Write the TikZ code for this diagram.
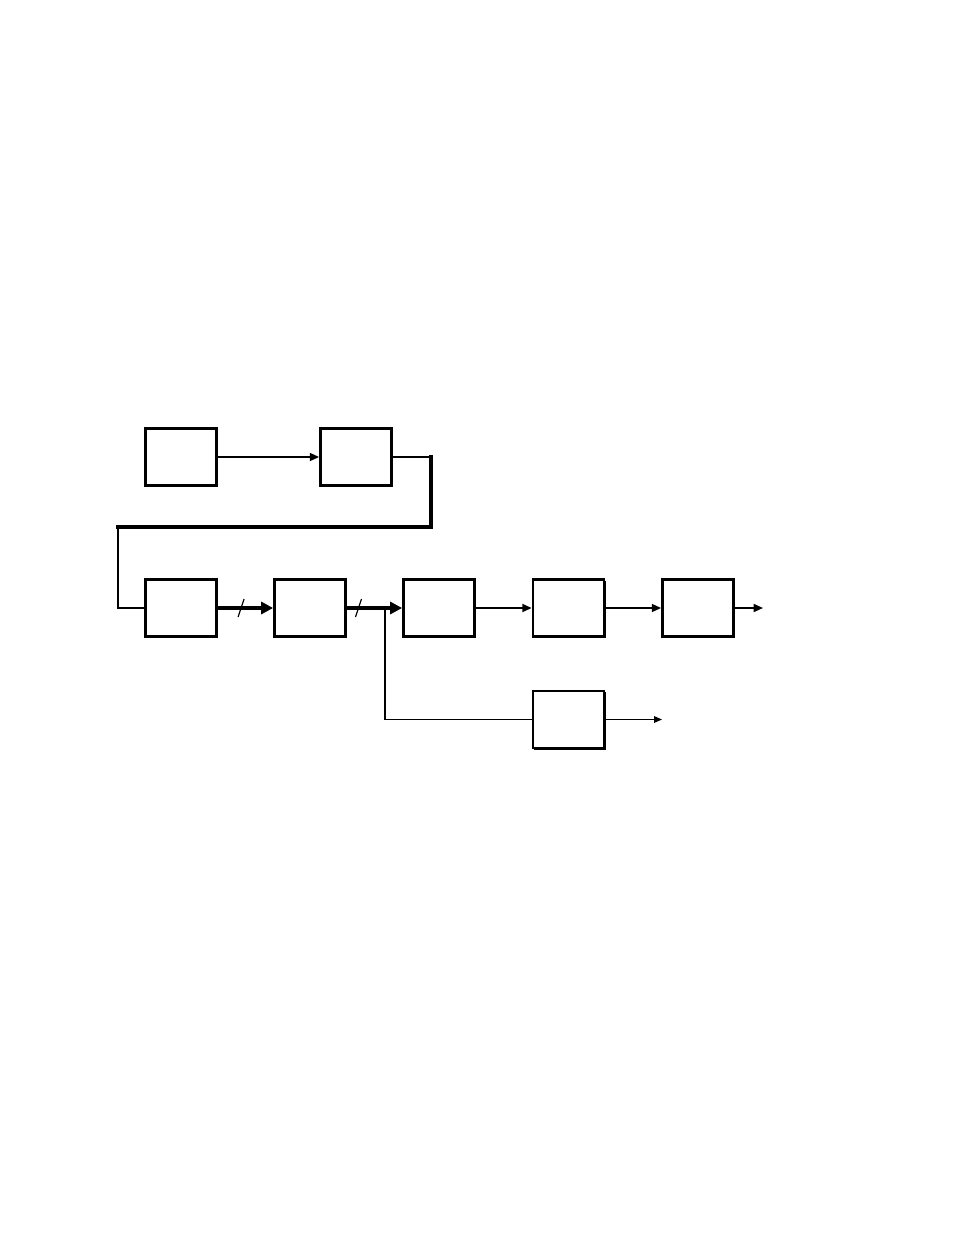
\documentclass[tikz,border=0pt]{standalone}
\usetikzlibrary{arrows.meta,shadows,calc}
\begin{document}
\begin{tikzpicture}[x=0.75pt,y=-0.75pt,
  blk/.style={draw=black,fill=white,line width=1.8pt,minimum width=53.5pt,minimum height=43pt,inner sep=0pt,
    drop shadow={shadow xshift=1pt,shadow yshift=-1pt,fill=black,opacity=1}},
  thin/.style={line width=1.2pt,-{Triangle[length=7pt,width=6pt]}},
  thick/.style={line width=3.5pt,-{Triangle[length=9pt,width=9pt]}},
  plain/.style={line width=1.2pt},
  bold/.style={line width=3.5pt},
  slash/.style={line width=0.9pt}]
\useasboundingbox (0,0) rectangle (954,1235);
\node[blk] (A) at (181,457) {};
\node[blk] (B) at (356,457) {};
\node[blk] (C) at (181,608) {};
\node[blk] (D) at (310,608) {};
\node[blk] (E) at (439,608) {};
\node[blk] (F) at (568.5,608) {};
\node[blk] (G) at (698,608) {};
\node[blk] (H) at (568.5,719.5) {};
\coordinate (r1) at (431,457);
\coordinate (r2) at (431,527);
\coordinate (r3) at (118,527);
\coordinate (J) at (385,608);
\coordinate (outG) at (763,608);
\coordinate (outH) at (662,719.5);
\draw[thin] (A.east) -- (B.west);
\draw[plain] (B.east) -- (r1);
\draw[bold,line cap=rect] (r1) -- (r2) -- (r3);
\draw[plain] (r3) |- (C.west);
\draw[thick] (C.east) -- (D.west);
\draw[thick] (D.east) -- (E.west);
\draw[line width=0.9pt] (J) |- (H.west);
\draw[thin] (E.east) -- (F.west);
\draw[thin] (F.east) -- (G.west);
\draw[thin] (G.east) -- (outG);
\draw[line width=0.9pt,-{Triangle[length=6pt,width=5pt]}] (H.east) -- (outH);
\coordinate (s1) at ($(C.east)!0.42!(D.west)$);
\coordinate (s2) at ($(D.east)!0.21!(E.west)$);
\draw[slash] ($(s1)+(-3,9)$) -- ($(s1)+(3,-9)$);
\draw[slash] ($(s2)+(-3,9)$) -- ($(s2)+(3,-9)$);
\end{tikzpicture}
\end{document}
